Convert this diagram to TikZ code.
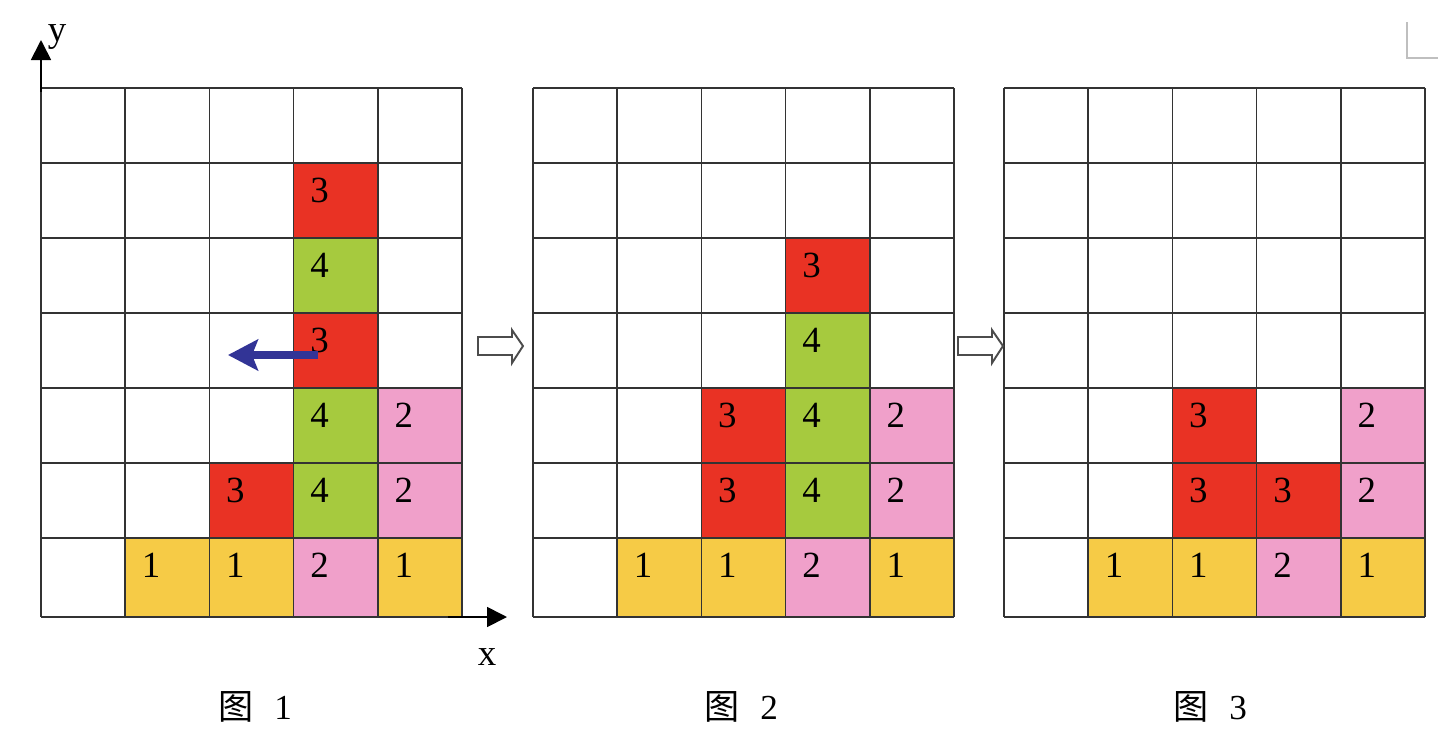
\documentclass[tikz,border=0pt]{standalone}
\usepackage{fontspec}
\setmainfont{Liberation Serif}
\newfontfamily\cjk{Noto Sans CJK SC}
\usetikzlibrary{arrows.meta}
\definecolor{cellred}{RGB}{233,50,36}
\definecolor{cellgreen}{RGB}{166,202,62}
\definecolor{cellpink}{RGB}{240,160,202}
\definecolor{cellyellow}{RGB}{246,203,70}
\definecolor{movblue}{RGB}{50,52,150}
\newcommand{\cellwd}{84.2}

% coloured cells of one grid: origin x, name prefix, col/row/colour/number
\newcommand{\paintgrid}[3]{%
    \foreach \c/\r/\clr/\n in {#3} {
        \pgfmathsetmacro{\xa}{#1+\c*\cellwd}
        \pgfmathsetmacro{\ya}{88+\r*75}
        \pgfmathsetmacro{\yb}{\r==6 ? 617 : 88+(\r+1)*75}
        \fill[\clr] (\xa,\ya) rectangle (\xa+\cellwd,\yb);
        \node[numtext] (#2-\c-\r) at (\xa+26,\ya+27) {\n};
    }
}
% the 5 x 7 lines
\newcommand{\drawgrid}[1]{%
    \foreach \i in {0,...,5}
        \draw[gridline] (#1+\i*\cellwd,88) -- (#1+\i*\cellwd,617);
    \foreach \y in {88,163,238,313,388,463,538,617}
        \draw[gridline] (#1,\y) -- (#1+5*\cellwd,\y);
}
\newcommand{\hollowarrow}[1]{%
    \draw[hollow] (#1,337) -- ++(34,0) -- ++(0,-7) -- ++(11,16)
        -- ++(-11,17) -- ++(0,-8) -- ++(-34,0) -- cycle;
}

\begin{document}
\begin{tikzpicture}[x=0.02cm, y=-0.02cm,
    gridline/.style={black!80, line width=0.9pt},
    numtext/.style={inner sep=0pt, font=\fontsize{21}{24}\selectfont},
    caption/.style={inner sep=0pt, font=\fontsize{20}{24}\selectfont},
    hollow/.style={black!70, line width=1.1pt, fill=white, line join=miter},
    axis/.style={black, line width=1pt, -{Triangle[length=0.4cm,width=0.4cm]}}]
    \useasboundingbox (0,0) rectangle (1448,738);

    \paintgrid{41}{a}{3/1/cellred/3, 3/2/cellgreen/4, 3/3/cellred/3,
        3/4/cellgreen/4, 4/4/cellpink/2, 2/5/cellred/3, 3/5/cellgreen/4,
        4/5/cellpink/2, 1/6/cellyellow/1, 2/6/cellyellow/1, 3/6/cellpink/2,
        4/6/cellyellow/1}
    \paintgrid{533}{b}{3/2/cellred/3, 3/3/cellgreen/4, 2/4/cellred/3,
        3/4/cellgreen/4, 4/4/cellpink/2, 2/5/cellred/3, 3/5/cellgreen/4,
        4/5/cellpink/2, 1/6/cellyellow/1, 2/6/cellyellow/1, 3/6/cellpink/2,
        4/6/cellyellow/1}
    \paintgrid{1004}{c}{2/4/cellred/3, 4/4/cellpink/2, 2/5/cellred/3,
        3/5/cellred/3, 4/5/cellpink/2, 1/6/cellyellow/1, 2/6/cellyellow/1,
        3/6/cellpink/2, 4/6/cellyellow/1}

    \drawgrid{41}
    \drawgrid{533}
    \drawgrid{1004}

    % axes
    \coordinate (O) at (41,92);
    \coordinate (ytip) at (41,40);
    \coordinate (xfoot) at (448,617);
    \coordinate (xtip) at (507,617);
    \draw[axis] (O) -- (ytip);
    \draw[axis] (xfoot) -- (xtip);
    \node[numtext] (ylab) at (57,37) {y};
    \node[numtext] (xlab) at (487,657) {x};

    % move of the top block
    \coordinate (mvstart) at (318,355);
    \coordinate (mvend) at (228,355);
    \draw[movblue, line width=4.5pt,
        -{Stealth[length=0.6cm,width=0.62cm,inset=0.12cm]}] (mvstart) -- (mvend);

    \hollowarrow{478}
    \hollowarrow{958}

    \node[caption] (cap1) at (255,707) {{\cjk 图}\hspace{0.6em}1};
    \node[caption] (cap2) at (741,707) {{\cjk 图}\hspace{0.6em}2};
    \node[caption] (cap3) at (1210,707) {{\cjk 图}\hspace{0.6em}3};

    % page corner mark
    \draw[black!25, line width=0.7pt] (1407,22) -- (1407,58) -- (1438,58);
\end{tikzpicture}
\end{document}
